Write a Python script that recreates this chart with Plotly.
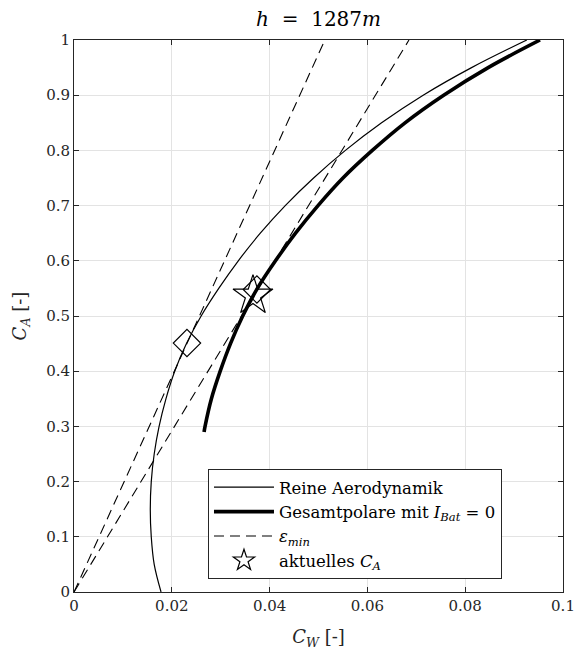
import plotly.graph_objects as go

# Reine Aerodynamik (thin polar)
aero_ca = [0.0, 0.05, 0.10, 0.15, 0.20, 0.25, 0.30, 0.35, 0.40, 0.45, 0.50, 0.55, 0.60, 0.65, 0.70, 0.75, 0.80, 0.85, 0.90, 0.95, 1.0]
aero_cw = [0.0178, 0.0164, 0.0158, 0.0156, 0.0158, 0.0164, 0.0174, 0.0188, 0.0206, 0.0230, 0.0260, 0.0296, 0.0336, 0.0381, 0.0432,
           0.0490, 0.0555, 0.0629, 0.0714, 0.0813, 0.0926]

# Gesamtpolare mit I_Bat = 0 (thick polar)
ges_ca = [0.29, 0.30, 0.35, 0.40, 0.45, 0.50, 0.55, 0.60, 0.65, 0.70, 0.75, 0.80, 0.85, 0.90, 0.95, 1.0]
ges_cw = [0.0266, 0.0268, 0.0281, 0.0299, 0.0320, 0.0345, 0.0375, 0.0412, 0.0453, 0.0499, 0.0550, 0.0610, 0.0677, 0.0756,
          0.0847, 0.0953]

# epsilon_min tangents through origin
eps1_cw = [0.0, 0.0513]
eps1_ca = [0.0, 1.0]
eps2_cw = [0.0, 0.0685]
eps2_ca = [0.0, 1.0]

# tangent points (diamonds) and current C_A (star)
tan_cw = [0.0231, 0.0374]
tan_ca = [0.451, 0.548]
star_cw = [0.0366]
star_ca = [0.537]

xticks = [0, 0.02, 0.04, 0.06, 0.08, 0.1]
xticklabels = ["0", "0.02", "0.04", "0.06", "0.08", "0.1"]
yticks = [0, 0.1, 0.2, 0.3, 0.4, 0.5, 0.6, 0.7, 0.8, 0.9, 1.0]
yticklabels = ["0", "0.1", "0.2", "0.3", "0.4", "0.5", "0.6", "0.7", "0.8", "0.9", "1"]

FONT = "DejaVu Serif"
AX = "#262626"

fig = go.Figure()
fig.add_trace(go.Scatter(x=aero_cw, y=aero_ca, mode="lines", line=dict(color="black", width=1.2, shape="spline"),
                         name="Reine Aerodynamik"))
fig.add_trace(go.Scatter(x=ges_cw, y=ges_ca, mode="lines", line=dict(color="black", width=3.6, shape="spline"),
                         name="Gesamtpolare mit <i>I<sub>Bat</sub></i> = 0"))
fig.add_trace(go.Scatter(x=eps1_cw, y=eps1_ca, mode="lines", line=dict(color="black", width=1.1, dash="10px,6px"),
                         name="<i>ε<sub>min</sub></i>"))
fig.add_trace(go.Scatter(x=eps2_cw, y=eps2_ca, mode="lines", line=dict(color="black", width=1.1, dash="10px,6px"),
                         showlegend=False))
fig.add_trace(go.Scatter(x=tan_cw, y=tan_ca, mode="markers",
                         marker=dict(symbol="diamond-open", size=21, color="black", line=dict(width=1.2)),
                         showlegend=False))
fig.add_trace(go.Scatter(x=star_cw, y=star_ca, mode="markers",
                         marker=dict(symbol="star-open", size=30, color="black", line=dict(width=1.2)),
                         name="aktuelles <i>C<sub>A</sub></i>"))

axis_common = dict(showline=True, linecolor=AX, linewidth=1, mirror="ticks", ticks="inside", ticklen=5,
                   tickcolor=AX, showgrid=True, gridcolor="#e3e3e3", gridwidth=1, zeroline=False, automargin=False,
                   ticklabeloverflow="allow", tickfont=dict(family=FONT, size=15, color=AX))

fig.update_xaxes(range=[0, 0.1], tickvals=xticks, ticktext=xticklabels,
                 title=dict(text="<i>C<sub>W</sub></i> [-]", font=dict(family=FONT, size=18, color=AX), standoff=16),
                 **axis_common)
fig.update_yaxes(range=[0, 1], tickvals=yticks, ticktext=yticklabels,
                 title=dict(text="<i>C<sub>A</sub></i> [-]", font=dict(family=FONT, size=18, color=AX), standoff=14),
                 **axis_common)

fig.update_layout(
    width=574, height=650,
    margin=dict(l=74, r=11, t=40, b=58),
    plot_bgcolor="white", paper_bgcolor="white",
    title=dict(text="<i>h</i>&nbsp; =&nbsp; 1287<i>m</i>", x=0.555, xanchor="center", y=0.982, yanchor="top",
               font=dict(family=FONT, size=20, color="black")),
    font=dict(family=FONT, color="black"),
    legend=dict(x=0.274, y=0.223, xanchor="left", yanchor="top", bgcolor="white",
                bordercolor=AX, borderwidth=1, font=dict(family=FONT, size=16.5, color="black"),
                tracegroupgap=0, itemwidth=60),
    showlegend=True,
)

fig.write_html("out.html")
